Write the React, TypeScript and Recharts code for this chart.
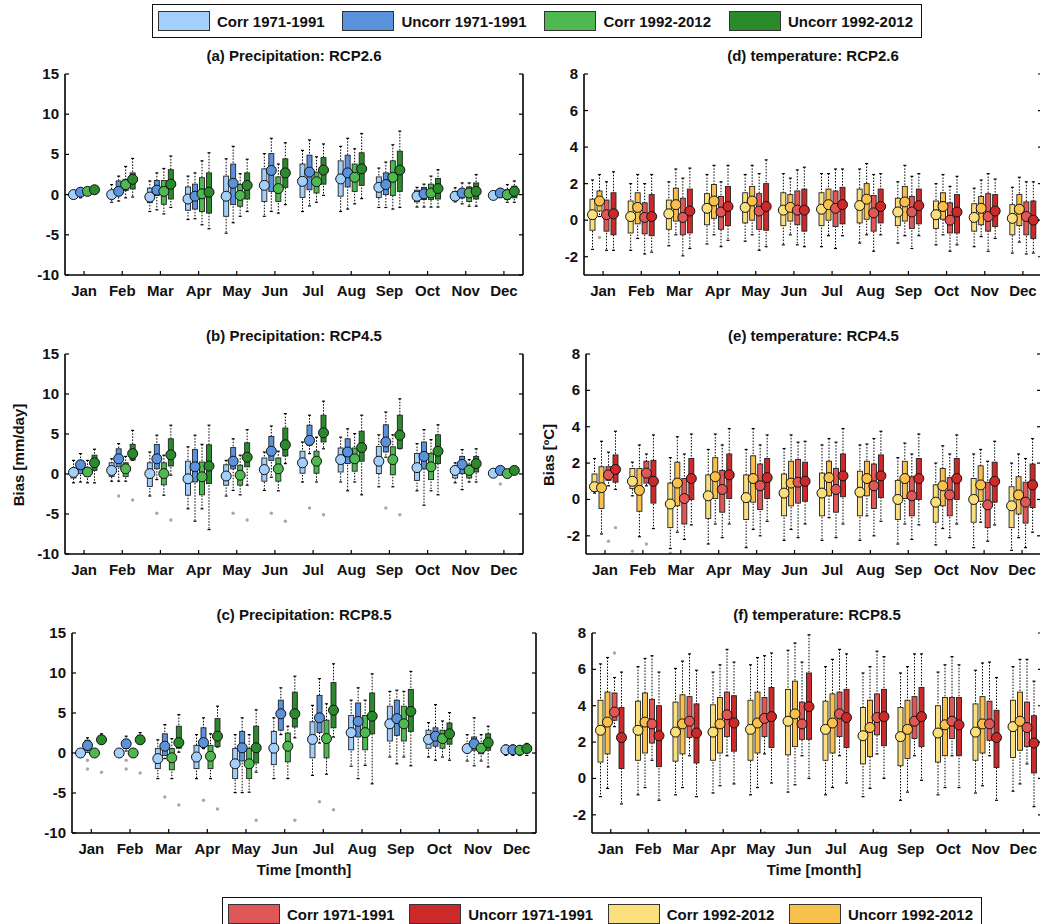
import React from 'react';
import { ComposedChart, Bar, XAxis, YAxis } from 'recharts';

const months = ['Jan', 'Feb', 'Mar', 'Apr', 'May', 'Jun', 'Jul', 'Aug', 'Sep', 'Oct', 'Nov', 'Dec'];

// every box is [lower whisker, q1, mean, q3, upper whisker]
// (a) precipitation RCP2.6
const prA_corr71 = [[-0.3, -0.1, 0.0, 0.1, 0.3], [-0.95, -0.2, 0.0, 0.3, 1.25], [-2.1, -1.0, -0.3, 0.8, 1.7], [-3.1, -1.95, -0.55, 0.95, 2.3], [-4.8, -2.7, -0.2, 2.3, 4.45], [-2.7, -0.85, 1.15, 3.2, 5.1], [-2.1, -0.35, 1.65, 3.8, 5.5], [-2.1, -0.2, 1.95, 4.2, 6.0], [-1.6, -0.35, 0.9, 2.2, 3.3], [-1.55, -0.9, -0.2, 0.55, 0.9], [-0.9, -0.75, -0.2, 0.4, 0.85], [-0.4, -0.25, -0.1, 0.1, 0.3]];
const prA_uncorr71 = [[-0.4, 0.1, 0.3, 0.5, 0.8], [-0.8, 0.0, 0.4, 1.7, 2.3], [-1.9, -0.1, 0.55, 1.75, 2.7], [-3.0, -1.8, -0.2, 1.3, 2.7], [-3.5, -1.25, 1.4, 3.8, 6.0], [-2.1, 0.4, 3.0, 5.1, 7.0], [-1.4, 0.6, 2.8, 4.9, 6.8], [-1.8, 0.95, 2.7, 4.9, 7.0], [-1.6, 0.0, 1.25, 2.7, 4.05], [-1.55, -0.6, 0.1, 0.9, 1.3], [-1.15, -0.4, 0.2, 0.7, 1.45], [-0.3, 0.0, 0.2, 0.4, 0.7]];
const prA_corr92 = [[-0.1, 0.2, 0.4, 0.6, 0.8], [-0.4, 0.5, 1.25, 1.9, 3.5], [-2.4, -1.2, 0.4, 1.75, 3.25], [-3.75, -2.1, 0.1, 2.1, 4.2], [-2.7, -1.45, -0.1, 1.25, 2.6], [-2.3, -0.85, 0.75, 2.2, 3.8], [-0.95, 0.2, 1.6, 2.8, 4.7], [-1.15, 0.4, 2.15, 3.8, 5.7], [-1.8, -0.1, 2.15, 4.2, 6.2], [-1.55, -0.6, 0.2, 1.3, 2.3], [-1.45, -0.85, 0.2, 0.95, 1.45], [-0.95, -0.6, 0.0, 0.6, 1.25]];
const prA_uncorr92 = [[0.1, 0.4, 0.6, 0.8, 1.0], [-0.3, 0.7, 1.9, 2.7, 4.5], [-1.6, -0.55, 1.3, 3.1, 4.8], [-4.25, -2.3, 0.3, 2.7, 5.2], [-2.1, -0.55, 1.15, 2.7, 4.4], [-1.25, 0.9, 2.7, 4.45, 6.45], [-0.1, 1.3, 3.05, 4.6, 6.3], [-0.5, 1.15, 3.2, 5.2, 7.6], [-1.6, 0.4, 3.05, 5.4, 7.9], [-1.55, -0.55, 0.75, 2.0, 3.1], [-1.45, -0.55, 0.4, 1.45, 2.5], [-0.95, -0.4, 0.4, 1.05, 1.7]];
const prA_out: number[][] = [];

// (b) precipitation RCP4.5
const prB_corr71 = [[-1.1, -0.5, 0.2, 0.65, 1.7], [-0.9, -0.3, 0.45, 1.4, 1.9], [-2.75, -1.55, 0.05, 1.4, 2.75], [-4.35, -2.65, -0.6, 1.6, 3.4], [-2.75, -1.4, -0.25, 1.15, 1.7], [-2.05, -0.9, 0.55, 2.0, 2.75], [-1.0, 0.1, 1.4, 2.85, 4.0], [-1.0, 0.25, 1.8, 3.25, 4.6], [-1.6, 0.05, 1.6, 3.45, 4.9], [-2.1, -0.8, 0.8, 2.55, 3.8], [-1.1, -0.5, 0.45, 0.95, 1.4], [-0.3, -0.1, 0.1, 0.25, 0.4]];
const prB_uncorr71 = [[-1.0, 0.05, 1.15, 1.6, 2.55], [-0.9, 0.9, 1.9, 3.15, 3.8], [-0.7, 0.65, 1.9, 3.7, 4.85], [-5.9, -1.0, 0.9, 3.05, 4.85], [-2.05, 0.65, 1.6, 3.3, 4.4], [-0.4, 1.7, 2.85, 4.7, 6.0], [2.55, 3.6, 4.2, 6.1, 7.35], [-2.1, 1.3, 2.75, 4.4, 5.65], [2.1, 2.75, 4.0, 6.15, 7.75], [-3.9, 0.65, 2.2, 4.0, 5.55], [-1.95, 0.05, 1.2, 2.2, 3.05], [0.1, 0.25, 0.45, 0.65, 0.8]];
const prB_corr92 = [[-1.1, -0.3, 0.25, 0.75, 1.7], [-0.9, -0.3, 0.65, 1.4, 2.2], [-2.65, -1.35, 0.05, 1.4, 2.35], [-4.35, -2.6, -0.35, 1.5, 3.7], [-2.6, -1.4, -0.15, 1.1, 2.35], [-2.1, -0.9, 0.65, 2.0, 2.85], [-1.0, 0.1, 1.6, 2.85, 4.6], [-1.0, 0.35, 1.9, 3.25, 5.05], [-1.6, -0.1, 1.8, 3.4, 4.9], [-2.1, -0.7, 0.9, 2.55, 4.3], [-1.0, -0.5, 0.45, 1.15, 1.8], [-0.3, -0.15, 0.05, 0.2, 0.35]];
const prB_uncorr92 = [[-1.1, 0.45, 1.4, 2.35, 3.1], [1.7, 1.75, 2.55, 3.7, 5.45], [-0.15, 1.0, 2.4, 4.4, 6.1], [-6.95, -1.2, 1.0, 3.65, 6.1], [-1.4, 0.9, 2.1, 3.9, 5.55], [1.3, 2.25, 3.65, 5.75, 7.55], [3.15, 4.0, 5.15, 7.35, 9.1], [-2.6, 1.6, 3.3, 5.35, 7.35], [3.15, 3.2, 4.85, 7.35, 9.4], [-2.6, 1.3, 2.85, 4.9, 6.15], [-1.0, 0.25, 1.3, 2.2, 3.15], [0.1, 0.3, 0.45, 0.6, 0.9]];
// [month, series, value]
const prB_out = [[2, 1, -2.75], [2, 3, -3.25], [3, 1, -4.9], [3, 3, -5.75], [5, 1, -4.9], [5, 3, -5.75], [6, 1, -4.9], [6, 3, -5.9], [7, 1, -4.25], [7, 3, -5.1], [9, 1, -4.25], [9, 3, -5.1], [12, 1, -1.25]];

// (c) precipitation RCP8.5
const prC_corr71 = [[-0.1, -0.05, 0.0, 0.05, 0.1], [-0.1, -0.05, 0.0, 0.05, 0.1], [-3.2, -1.95, -0.7, 0.55, 1.65], [-3.2, -1.95, -0.5, 0.95, 2.3], [-4.95, -3.2, -1.35, 0.55, 2.3], [-3.2, -1.45, 0.6, 2.7, 4.4], [-2.8, -0.6, 1.7, 3.9, 5.95], [-1.65, 0.4, 2.55, 4.7, 6.6], [-0.5, 1.5, 3.65, 5.85, 7.7], [-0.5, 0.6, 1.7, 2.85, 3.8], [-1.0, 0.1, 0.55, 0.95, 2.3], [-0.3, 0.1, 0.4, 0.6, 1.0]];
const prC_uncorr71 = [[0.1, 0.35, 0.95, 1.6, 1.9], [0.25, 0.55, 1.15, 1.7, 2.1], [-0.7, -0.3, 0.85, 2.4, 3.55], [0.55, 0.75, 1.3, 3.15, 4.4], [-4.95, -1.0, 0.65, 2.7, 4.4], [2.3, 2.85, 4.9, 6.6, 8.15], [1.25, 2.55, 4.4, 7.2, 9.3], [-3.2, 2.0, 3.95, 6.25, 8.15], [-1.35, 2.2, 4.3, 6.6, 7.85], [-0.9, 0.85, 2.1, 3.15, 6.05], [-1.6, 0.35, 1.15, 2.0, 4.4], [-0.3, 0.1, 0.4, 0.7, 1.0]];
const prC_corr92 = [[-0.1, -0.05, 0.0, 0.05, 0.1], [-0.1, -0.05, 0.0, 0.05, 0.1], [-3.2, -2.1, -0.6, 0.55, 1.8], [-3.2, -1.95, -0.4, 0.95, 2.4], [-4.9, -3.2, -1.35, 0.55, 2.3], [-3.2, -1.1, 0.85, 2.5, 3.35], [-2.65, -0.6, 1.8, 4.1, 6.15], [-1.55, 0.4, 2.55, 4.7, 6.6], [-0.5, 1.5, 3.65, 5.85, 7.7], [-0.5, 0.6, 1.8, 2.85, 4.0], [-1.0, -0.1, 0.6, 1.1, 2.3], [-0.3, 0.05, 0.35, 0.55, 0.9]];
const prC_uncorr92 = [[1.15, 1.25, 1.65, 2.1, 2.4], [1.25, 1.3, 1.65, 2.2, 2.55], [0.1, 0.6, 1.3, 3.35, 4.8], [0.75, 0.8, 2.1, 4.3, 5.85], [-2.4, -1.25, 0.65, 3.35, 5.4], [1.9, 3.25, 4.9, 7.6, 9.6], [2.0, 3.15, 5.35, 8.8, 11.15], [-3.85, 2.4, 4.6, 7.5, 9.9], [-1.6, 2.7, 5.2, 7.95, 10.2], [-0.9, 1.1, 2.4, 3.75, 5.05], [-1.75, 0.35, 1.3, 2.4, 3.35], [-0.3, 0.2, 0.55, 0.8, 1.2]];
const prC_out = [[1, 1, -0.9], [1, 1, -2.0], [1, 3, -2.4], [2, 1, -0.9], [2, 1, -2.0], [2, 3, -2.5], [3, 1, -5.5], [3, 3, -6.5], [4, 1, -5.9], [4, 3, -7.0], [5, 3, -8.4], [6, 3, -8.4], [7, 1, -6.1], [7, 3, -7.1]];

// (d) temperature RCP2.6 (drawn order: corr92, uncorr92, corr71, uncorr71)
const tD_corr92 = [[-1.6, -0.55, 0.3, 1.15, 2.2], [-1.65, -0.7, 0.2, 1.05, 2.0], [-1.4, -0.5, 0.35, 1.1, 2.1], [-1.3, -0.25, 0.65, 1.45, 2.5], [-1.15, -0.15, 0.7, 1.5, 2.5], [-1.35, -0.3, 0.55, 1.5, 2.55], [-1.45, -0.3, 0.6, 1.5, 2.55], [-1.25, -0.15, 0.8, 1.7, 2.8], [-1.25, -0.3, 0.45, 1.2, 2.1], [-1.35, -0.45, 0.3, 1.05, 2.0], [-1.45, -0.6, 0.15, 0.9, 1.75], [-1.8, -0.8, 0.1, 0.85, 1.8]];
const tD_uncorr92 = [[0.2, 0.5, 1.05, 1.6, 2.5], [-1.0, -0.2, 0.7, 1.5, 2.5], [-0.8, -0.05, 0.85, 1.75, 2.8], [-0.8, 0.1, 1.05, 1.95, 3.0], [-0.8, 0.0, 1.05, 1.85, 3.0], [-0.8, -0.05, 0.7, 1.4, 2.3], [-0.85, 0.0, 0.85, 1.7, 2.55], [-0.8, 0.05, 1.15, 2.0, 3.1], [-0.85, -0.05, 1.0, 1.85, 3.0], [-0.8, 0.05, 0.75, 1.5, 2.5], [-0.9, -0.25, 0.65, 1.3, 2.2], [-1.2, -0.3, 0.6, 1.4, 2.35]];
const tD_corr71 = [[-1.65, -0.6, 0.3, 1.1, 2.1], [-1.85, -0.75, 0.15, 0.95, 2.0], [-1.95, -0.8, 0.15, 1.2, 2.3], [-1.45, -0.5, 0.45, 1.3, 2.1], [-1.65, -0.5, 0.5, 1.45, 2.55], [-1.35, -0.25, 0.55, 1.6, 2.75], [-1.55, -0.35, 0.65, 1.6, 2.8], [-1.7, -0.6, 0.4, 1.35, 2.5], [-1.55, -0.45, 0.45, 1.3, 2.4], [-1.7, -0.7, 0.0, 0.95, 1.85], [-1.7, -0.6, 0.2, 1.45, 2.55], [-1.85, -0.8, 0.2, 1.0, 2.1]];
const tD_uncorr71 = [[-1.65, -0.8, 0.35, 1.5, 2.65], [-1.75, -0.85, 0.2, 1.4, 2.5], [-1.55, -0.7, 0.5, 1.7, 2.85], [-1.1, -0.3, 0.75, 1.85, 3.0], [-1.45, -0.55, 0.75, 2.0, 3.3], [-1.45, -0.6, 0.55, 1.7, 2.9], [-0.85, -0.2, 0.85, 1.8, 2.8], [-0.8, -0.15, 0.75, 1.7, 2.55], [-0.85, -0.2, 0.8, 1.7, 2.55], [-1.35, -0.7, 0.45, 1.4, 2.4], [-1.0, -0.35, 0.5, 1.4, 2.25], [-1.8, -1.0, 0.0, 1.05, 2.1]];
const tD_out = [[1, 1, -0.95]];

// (e) temperature RCP4.5
const tE_corr92 = [[0.35, 0.45, 0.7, 1.4, 2.25], [0.2, 0.6, 1.0, 1.7, 2.05], [-2.7, -1.55, -0.25, 0.9, 2.3], [-2.45, -1.05, 0.2, 1.35, 2.75], [-2.65, -1.1, 0.1, 1.35, 2.75], [-2.25, -0.9, 0.35, 1.4, 2.8], [-2.25, -0.9, 0.35, 1.45, 3.0], [-2.25, -0.9, 0.4, 1.55, 3.0], [-2.45, -1.1, 0.0, 1.05, 2.3], [-2.5, -1.25, -0.15, 0.8, 2.0], [-2.65, -1.25, 0.0, 1.15, 2.5], [-2.8, -1.55, -0.35, 0.7, 2.0]];
const tE_uncorr92 = [[-1.9, -0.5, 0.65, 1.8, 3.2], [-2.05, -0.65, 0.5, 1.7, 3.0], [-1.8, -0.35, 0.9, 2.05, 3.45], [-1.35, 0.05, 1.25, 2.3, 3.6], [-1.65, -0.15, 1.15, 2.4, 3.9], [-1.65, -0.35, 0.9, 2.1, 3.55], [-1.0, 0.2, 1.2, 2.1, 3.35], [-0.9, 0.2, 1.15, 2.1, 3.05], [-1.35, 0.05, 1.15, 2.1, 3.1], [-1.6, -0.35, 0.75, 1.7, 2.95], [-1.25, -0.1, 0.8, 1.85, 2.75], [-2.1, -0.8, 0.25, 1.25, 2.5]];
const tE_corr71 = [[0.75, 1.05, 1.35, 1.8, 2.6], [0.75, 0.9, 1.45, 2.1, 2.5], [-2.2, -1.35, 0.05, 1.15, 2.5], [-2.1, -0.7, 0.55, 1.6, 3.0], [-2.0, -0.55, 0.75, 1.95, 3.0], [-2.1, -0.2, 0.95, 2.2, 3.15], [-2.1, -0.7, 0.55, 1.7, 3.15], [-2.0, -0.5, 0.75, 1.95, 3.35], [-2.2, -0.9, 0.2, 1.25, 2.5], [-2.1, -0.9, 0.25, 1.2, 2.5], [-2.3, -1.55, -0.3, 0.95, 2.1], [-2.65, -1.3, -0.15, 0.95, 2.25]];
const tE_uncorr71 = [[0.55, 0.95, 1.65, 2.45, 3.75], [-1.6, -0.2, 1.0, 2.15, 3.55], [-1.4, 0.0, 1.15, 2.25, 3.6], [-1.35, 0.05, 1.35, 2.5, 3.9], [-1.2, 0.05, 1.2, 2.25, 3.55], [-1.35, -0.1, 1.0, 2.05, 3.2], [-1.35, 0.15, 1.3, 2.5, 3.9], [-1.2, 0.1, 1.3, 2.45, 3.75], [-1.4, 0.0, 1.15, 2.25, 3.6], [-1.35, 0.0, 1.15, 2.25, 3.55], [-1.4, -0.15, 1.0, 2.05, 3.2], [-1.8, -0.45, 0.8, 1.95, 3.35]];
const tE_out = [[1, 2, -2.3], [1, 3, -1.55], [2, 0, -2.84], [2, 2, -2.45], [3, 0, -2.95]];

// (f) temperature RCP8.5
const tF_corr92 = [[-1.0, 0.9, 2.65, 4.3, 6.3], [-0.9, 1.0, 2.65, 4.25, 6.15], [-0.9, 0.95, 2.55, 4.2, 6.05], [-0.8, 1.0, 2.55, 4.05, 5.85], [-0.9, 1.0, 2.7, 4.3, 6.25], [-0.75, 1.3, 3.15, 4.9, 7.05], [-0.9, 1.0, 2.7, 4.25, 6.15], [-1.0, 0.8, 2.35, 3.9, 5.8], [-1.2, 0.7, 2.3, 3.9, 5.8], [-0.9, 0.9, 2.5, 4.0, 5.85], [-0.8, 1.0, 2.55, 4.1, 5.95], [-0.7, 1.15, 2.85, 4.3, 6.15]];
const tF_uncorr92 = [[-0.55, 1.35, 3.1, 4.75, 6.65], [-0.5, 1.4, 3.1, 4.7, 6.6], [-0.5, 1.35, 3.0, 4.6, 6.45], [-0.4, 1.4, 3.0, 4.45, 6.25], [-0.5, 1.4, 3.05, 4.75, 6.65], [-0.35, 1.75, 3.55, 5.35, 7.45], [-0.5, 1.4, 3.05, 4.65, 6.55], [-0.55, 1.2, 2.8, 4.3, 6.15], [-0.75, 1.1, 2.7, 4.3, 6.15], [-0.5, 1.25, 2.95, 4.45, 6.25], [-0.4, 1.4, 3.0, 4.5, 6.35], [-0.3, 1.55, 3.15, 4.75, 6.55]];
const tF_corr71 = [[2.85, 3.2, 3.65, 4.7, 5.55], [1.0, 1.95, 3.0, 4.35, 6.75], [1.25, 2.25, 3.15, 4.5, 6.85], [1.25, 2.3, 3.5, 4.75, 7.1], [1.35, 2.3, 3.3, 4.45, 6.75], [1.25, 2.15, 3.0, 4.2, 6.4], [1.25, 2.3, 3.55, 4.75, 7.1], [1.35, 2.4, 3.35, 4.65, 7.0], [1.25, 2.2, 3.15, 4.5, 6.85], [1.25, 2.2, 3.15, 4.45, 6.7], [1.25, 2.1, 3.0, 4.25, 6.4], [0.8, 1.75, 2.8, 4.2, 6.55]];
const tF_uncorr71 = [[-1.4, 0.55, 2.25, 3.9, 5.85], [-1.2, 0.65, 2.35, 4.0, 5.85], [-1.0, 0.85, 2.5, 4.1, 5.95], [-0.3, 1.5, 3.05, 4.55, 6.4], [-0.25, 1.7, 3.4, 5.0, 6.9], [0.0, 2.15, 3.95, 5.8, 7.9], [-0.25, 1.7, 3.35, 4.9, 6.85], [0.0, 1.8, 3.4, 4.9, 6.7], [-0.1, 1.75, 3.4, 5.0, 6.85], [-0.5, 1.25, 2.95, 4.45, 6.25], [-1.2, 0.6, 2.25, 3.75, 5.55], [-1.55, 0.3, 1.95, 3.45, 5.35]];
const tF_out = [[1, 2, 6.9], [5, 2, -3.0], [8, 2, -3.0]];

const precipTicks = [-10, -5, 0, 5, 10, 15];
const tempTicks = [-2, 0, 2, 4, 6, 8];

const precipColors = ['#a3cffa', '#5a92db', '#50b850', '#2b8a2b'];
const tempColors = ['#f9e07d', '#f9c14b', '#e05757', '#cc2a2a'];

const topLegend = [
  { label: 'Corr 1971-1991', color: '#a3cffa' },
  { label: 'Uncorr 1971-1991', color: '#5a92db' },
  { label: 'Corr 1992-2012', color: '#50b850' },
  { label: 'Uncorr 1992-2012', color: '#2b8a2b' },
];
const bottomLegend = [
  { label: 'Corr 1971-1991', color: '#e05757' },
  { label: 'Uncorr 1971-1991', color: '#cc2a2a' },
  { label: 'Corr 1992-2012', color: '#f9e07d' },
  { label: 'Uncorr 1992-2012', color: '#f9c14b' },
];

const FONT = '"Liberation Sans", Arial, Helvetica, sans-serif';

const panels = [
  { title: '(a) Precipitation: RCP2.6', x: 65, y: 74, w: 458, h: 201, domain: [-10, 15], ticks: precipTicks, series: [prA_corr71, prA_uncorr71, prA_corr92, prA_uncorr92], out: prA_out, colors: precipColors },
  { title: '(b) Precipitation: RCP4.5', x: 65, y: 354, w: 458, h: 200, domain: [-10, 15], ticks: precipTicks, series: [prB_corr71, prB_uncorr71, prB_corr92, prB_uncorr92], out: prB_out, colors: precipColors },
  { title: '(c) Precipitation: RCP8.5', x: 72, y: 633, w: 464, h: 200, domain: [-10, 15], ticks: precipTicks, series: [prC_corr71, prC_uncorr71, prC_corr92, prC_uncorr92], out: prC_out, colors: precipColors },
  { title: '(d) temperature: RCP2.6', x: 584, y: 74, w: 458, h: 201, domain: [-3, 8], ticks: tempTicks, series: [tD_corr92, tD_uncorr92, tD_corr71, tD_uncorr71], out: tD_out, colors: tempColors },
  { title: '(e) temperature: RCP4.5', x: 586, y: 354, w: 455, h: 200, domain: [-3, 8], ticks: tempTicks, series: [tE_corr92, tE_uncorr92, tE_corr71, tE_uncorr71], out: tE_out, colors: tempColors },
  { title: '(f) temperature: RCP8.5', x: 592, y: 633, w: 450, h: 200, domain: [-3, 8], ticks: tempTicks, series: [tF_corr92, tF_uncorr92, tF_corr71, tF_uncorr71], out: tF_out, colors: tempColors },
];

function buildRows(series: number[][][], out: number[][]) {
  return months.map((m, i) => ({
    m,
    b: series.map((arr) => arr[i]),
    o: series.map((_, s) => out.filter((o) => o[0] === i + 1 && o[1] === s).map((o) => o[2])),
  }));
}

const axisLine = { stroke: '#000', strokeWidth: 1.6 };

const TopTick = (p: any) => <line x1={p.x} x2={p.x} y1={p.y} y2={p.y + 4} stroke="#000" strokeWidth={1.2} />;
const BottomTick = (p: any) => (
  <g>
    <line x1={p.x} x2={p.x} y1={p.y} y2={p.y - 4} stroke="#000" strokeWidth={1.2} />
    <text x={p.x} y={p.y + 21} textAnchor="middle" fontFamily={FONT} fontWeight="bold" fontSize={15} fill="#111">
      {p.payload.value}
    </text>
  </g>
);
const LeftTick = (p: any) => (
  <g>
    <line x1={p.x} x2={p.x + 4} y1={p.y} y2={p.y} stroke="#000" strokeWidth={1.2} />
    <text x={p.x - 6} y={p.y + 5} textAnchor="end" fontFamily={FONT} fontWeight="bold" fontSize={15} fill="#111">
      {p.payload.value}
    </text>
  </g>
);
const RightTick = (p: any) => <line x1={p.x} x2={p.x - 4} y1={p.y} y2={p.y} stroke="#000" strokeWidth={1.2} />;

const whiskerShape = (p: any) => {
  const cx = p.x + p.width / 2;
  const y2 = p.y + p.height;
  return (
    <g>
      <line x1={cx} x2={cx} y1={p.y} y2={y2} stroke="#000" strokeWidth={1} strokeDasharray="1.5 1.5" />
      <line x1={cx - 1.5} x2={cx + 1.5} y1={p.y} y2={p.y} stroke="#000" strokeWidth={1.2} />
      <line x1={cx - 1.5} x2={cx + 1.5} y1={y2} y2={y2} stroke="#000" strokeWidth={1.2} />
    </g>
  );
};
const boxShape = (color: string) => (p: any) => (
  <rect x={p.x} y={p.y} width={p.width} height={Math.max(p.height, 0.5)} fill={color} stroke="#222" strokeWidth={0.9} />
);
const meanShape = (color: string) => (p: any) => (
  <circle cx={p.x + p.width / 2} cy={p.y} r={5} fill={color} stroke="#111" strokeWidth={1} />
);
const outShape = (s: number, k: number) => (p: any) =>
  p.payload.o[s][k] == null ? <g /> : <circle cx={p.x + p.width / 2} cy={p.y} r={1.7} fill="#a8a8a8" />;

const Panel = ({ p }: { p: any }) => {
  const rows = buildRows(p.series, p.out);
  const ml = 60;
  const mt = 30;
  const mr = 10;
  const mb = 40;
  const sIdx = [0, 1, 2, 3];
  return (
    <>
      <div
        style={{
          position: 'absolute', left: p.x, top: p.y - 27, width: p.w, textAlign: 'center',
          fontFamily: FONT, fontWeight: 'bold', fontSize: 15, color: '#111', whiteSpace: 'nowrap',
        }}
      >
        {p.title}
      </div>
      <div style={{ position: 'absolute', left: p.x - ml, top: p.y - mt }}>
        <ComposedChart
          width={ml + p.w + mr}
          height={mt + p.h + mb}
          data={rows}
          margin={{ top: mt, right: 0, bottom: 0, left: 0 }}
          barGap={2}
          barCategoryGap={0}
        >
          <XAxis xAxisId="top" orientation="top" dataKey="m" height={0} tickSize={0} tickMargin={0} tickLine={false} axisLine={axisLine} tick={TopTick} interval={0} />
          <XAxis xAxisId="bottom" dataKey="m" height={mb} tickSize={0} tickMargin={0} tickLine={false} axisLine={axisLine} tick={BottomTick} interval={0} />
          {['wh', 'bx', 'o0', 'o1', 'mn'].map((id) => (
            <XAxis key={id} xAxisId={id} dataKey="m" hide />
          ))}
          <YAxis type="number" domain={p.domain} ticks={p.ticks} allowDataOverflow width={ml} tickSize={0} tickMargin={0} tickLine={false} axisLine={axisLine} tick={LeftTick} interval={0} />
          <YAxis yAxisId="r" orientation="right" type="number" domain={p.domain} ticks={p.ticks} allowDataOverflow width={mr} tickSize={0} tickMargin={0} tickLine={false} axisLine={axisLine} tick={RightTick} interval={0} />
          {sIdx.map((s) => (
            <Bar key={'wh' + s} xAxisId="wh" dataKey={(d: any) => [d.b[s][0], d.b[s][4]]} barSize={5} shape={whiskerShape} isAnimationActive={false} />
          ))}
          {sIdx.map((s) => (
            <Bar key={'bx' + s} xAxisId="bx" dataKey={(d: any) => [d.b[s][1], d.b[s][3]]} barSize={5} shape={boxShape(p.colors[s])} isAnimationActive={false} />
          ))}
          {[0, 1].map((k) =>
            sIdx.map((s) => (
              <Bar
                key={'o' + k + s}
                xAxisId={'o' + k}
                dataKey={(d: any) => (d.o[s][k] == null ? null : [d.o[s][k], d.o[s][k]])}
                barSize={5}
                shape={outShape(s, k)}
                isAnimationActive={false}
              />
            )),
          )}
          {sIdx.map((s) => (
            <Bar key={'mn' + s} xAxisId="mn" dataKey={(d: any) => [d.b[s][2], d.b[s][2]]} barSize={5} shape={meanShape(p.colors[s])} isAnimationActive={false} />
          ))}
        </ComposedChart>
      </div>
    </>
  );
};

const LegendBox = ({ items, left, top, width }: { items: { label: string; color: string }[]; left: number; top: number; width: number }) => (
  <div
    style={{
      position: 'absolute', left, top, width, height: 34, boxSizing: 'border-box', border: '1.5px solid #111',
      display: 'flex', alignItems: 'center', justifyContent: 'space-between', padding: '0 8px 0 5px', background: '#fff',
    }}
  >
    {items.map((it) => (
      <div key={it.label} style={{ display: 'flex', alignItems: 'center' }}>
        <div style={{ width: 52, height: 20, boxSizing: 'border-box', background: it.color, border: '1px solid #333', marginRight: 7 }} />
        <span style={{ fontFamily: FONT, fontWeight: 'bold', fontSize: 15, color: '#111', whiteSpace: 'nowrap' }}>{it.label}</span>
      </div>
    ))}
  </div>
);

const axisTitle: React.CSSProperties = {
  position: 'absolute', fontFamily: FONT, fontWeight: 'bold', fontSize: 15, color: '#111', whiteSpace: 'nowrap',
};

export default function App() {
  return (
    <div style={{ position: 'absolute', left: 0, top: 0, width: 1040, height: 924, overflow: 'hidden', background: '#fff' }}>
      <LegendBox items={topLegend} left={152} top={4} width={770} />
      {panels.map((p) => (
        <Panel key={p.title} p={p} />
      ))}
      <div style={{ ...axisTitle, left: 18, top: 455, transform: 'translate(-50%, -50%) rotate(-90deg)' }}>Bias [mm/day]</div>
      <div style={{ ...axisTitle, left: 548, top: 455, transform: 'translate(-50%, -50%) rotate(-90deg)' }}>Bias [ºC]</div>
      <div style={{ ...axisTitle, left: 304, top: 869, transform: 'translate(-50%, -50%)' }}>Time [month]</div>
      <div style={{ ...axisTitle, left: 814, top: 869, transform: 'translate(-50%, -50%)' }}>Time [month]</div>
      <LegendBox items={bottomLegend} left={222} top={897} width={760} />
    </div>
  );
}
